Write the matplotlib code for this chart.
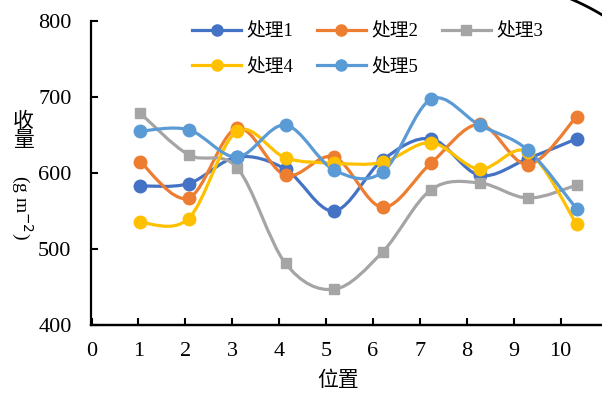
import numpy as np
import matplotlib
matplotlib.use('Agg')
import matplotlib.pyplot as plt
from matplotlib.path import Path
from matplotlib.patches import PathPatch
from matplotlib.lines import Line2D

plt.rcParams['font.family'] = ['Liberation Serif', 'Noto Sans CJK SC']

positions = [1, 2, 3, 4, 5, 6, 7, 8, 9, 10]
names = ['处理1', '处理2', '处理3', '处理4', '处理5']
t1 = [583, 586, 621, 605, 550, 617, 645, 597, 619, 645]
t2 = [615, 567, 659, 597, 621, 555, 613, 664, 611, 674]
t3 = [679, 624, 607, 481, 447, 496, 578, 587, 567, 584]
t4 = [535, 540, 655, 620, 613, 614, 640, 605, 628, 533]
t5 = [655, 657, 621, 663, 604, 601, 697, 663, 630, 553]
colors = ['#4472C4', '#ED7D31', '#A5A5A5', '#FFC000', '#5B9BD5']
markers = ['o', 'o', 's', 'o', 'o']

# tick axis is a little narrower than the plotted categories
tick_scale = 48.5 / 46.9


def smooth_path(xs, ys):
    # cubic bezier through every point, like the smoothed line in a spreadsheet chart
    pts = np.column_stack([xs, ys]).astype(float)
    pad = np.vstack([pts[0], pts, pts[-1]])
    verts = [pts[0]]
    codes = [Path.MOVETO]
    for i in range(len(pts) - 1):
        p0, p1, p2, p3 = pad[i], pad[i + 1], pad[i + 2], pad[i + 3]
        verts += [p1 + (p2 - p0) / 6, p2 - (p3 - p1) / 6, p2]
        codes += [Path.CURVE4] * 3
    return Path(verts, codes)


fig = plt.figure(figsize=(6.02, 3.93), dpi=100)
ax = fig.add_axes([91 / 602, 1 - 325 / 393, 511 / 602, 304 / 393])

handles = []
for vals, c, m, name in zip([t1, t2, t3, t4, t5], colors, markers, names):
    ax.add_patch(PathPatch(smooth_path(positions, vals), fill=False,
                           edgecolor=c, lw=2.3, capstyle='round'))
    ax.plot(positions, vals, m, color=c, ms=9 if m == 'o' else 7, zorder=3)
    handles.append(Line2D([], [], color=c, lw=2.3, marker=m, ms=8 if m == 'o' else 6.5))

ax.set_xlim((91 - 91.5) / 48.5, (602 - 91.5) / 48.5)
ax.set_ylim(400, 800)
ax.set_yticks([400, 500, 600, 700, 800])
ax.tick_params(axis='y', direction='in', length=5, width=1.5, pad=14, labelsize=16)
ax.tick_params(axis='x', bottom=False, labelbottom=False)
for s in ['top', 'right']:
    ax.spines[s].set_visible(False)
for s in ['left', 'bottom']:
    ax.spines[s].set_linewidth(1.6)

sec = ax.secondary_xaxis('bottom', functions=(lambda d: d * tick_scale,
                                              lambda t: t / tick_scale))
sec.set_xticks(range(0, 11))
sec.tick_params(direction='in', length=5, width=1.5, pad=12, labelsize=16)
sec.spines['bottom'].set_linewidth(1.6)

fig.text(338 / 602, 1 - 381 / 393, '位置', ha='center', va='center', fontsize=15)
fig.text(23 / 602, 1 - 132 / 393, '收\n量', ha='center', va='center',
         fontsize=15, linespacing=1.0)
fig.text(22 / 602, 1 - 207 / 393, '(g m$^{-2}$)', ha='center', va='center',
         rotation=-90, fontsize=14)

order = [0, 3, 1, 4, 2]
fig.legend([handles[i] for i in order], [names[i] for i in order],
           loc='upper left', bbox_to_anchor=(183 / 602, 1 - 14 / 393),
           ncol=3, frameon=False, fontsize=13.5, borderpad=0,
           handlelength=2.6, handletextpad=0.3, columnspacing=1.25,
           labelspacing=0.95)

# curved page edge in the top right corner (pixel centre and radius)
cx, cy, r = 473, 229, 250
ang = np.linspace(np.deg2rad(69), np.deg2rad(56), 40)
fig.add_artist(Line2D((cx + r * np.cos(ang)) / 602, 1 - (cy - r * np.sin(ang)) / 393,
                      transform=fig.transFigure, color='black', lw=2))

fig.savefig('out.png', dpi=100)
